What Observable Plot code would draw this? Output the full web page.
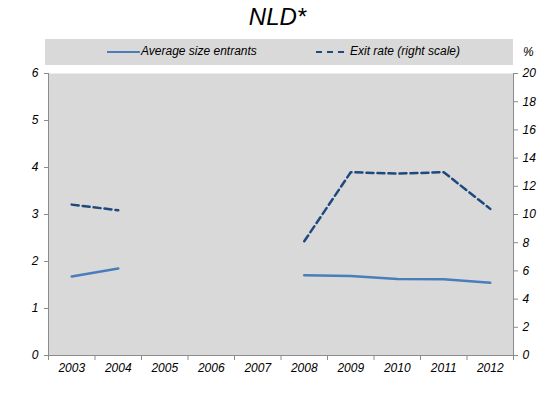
<!DOCTYPE html>
<html><head><meta charset="utf-8">
<script src="https://cdn.jsdelivr.net/npm/d3@7"></script>
<script src="https://cdn.jsdelivr.net/npm/@observablehq/plot@0.6"></script>
<style>
body{margin:0;background:#fff;font-family:"Liberation Sans",Arial,sans-serif;}
#wrap{position:relative;width:555px;height:405px;}
#title{position:absolute;left:0;top:0px;width:555px;text-align:center;font-size:24px;line-height:34px;font-style:italic;color:#000;}
#legend{position:absolute;left:45px;top:39px;width:468px;height:26px;background:#d9d9d9;font-size:12px;font-style:italic;color:#000;}
#pct{position:absolute;left:523px;top:45px;font-size:12px;font-style:italic;}
.li{position:absolute;top:5px;white-space:nowrap;}
.sw{position:absolute;top:12px;height:0;}
</style></head>
<body><div id="wrap">
<div id="title">NLD*</div>
<div id="legend">
  <div class="sw" style="left:62px;width:33px;border-top:2.5px solid #4a7ebb"></div>
  <div class="li" style="left:96px">Average size entrants</div>
  <div class="sw" style="left:271px;width:28px;border-top:2.5px dashed #1f497d"></div>
  <div class="li" style="left:305px">Exit rate (right scale)</div>
</div>
<div id="pct">%</div>
<div id="chart"></div>
</div>
<script>
const years = [2003,2004,2005,2006,2007,2008,2009,2010,2011,2012];
const avgSize = [1.68,1.85,null,null,null,1.71,1.69,1.63,1.62,1.55];
const exitRate = [10.7,10.3,null,null,null,8.1,13.0,12.9,13.0,10.4];
const leftTicks = [0,1,2,3,4,5,6];
const rightTicks = [0,2,4,6,8,10,12,14,16,18,20];
const ratio = 6/20;

const dataAvg = years.map((y,i)=>({year:y, v: avgSize[i]==null?NaN:avgSize[i]}));
const dataExit = years.map((y,i)=>({year:y, v: exitRate[i]==null?NaN:exitRate[i]*ratio}));
const bounds = d3.range(years.length+1).map(i=>years[0]-0.5+i);
const axisColor = "#8c8c8c";

const chart = Plot.plot({
  width:555, height:405,
  marginLeft:48, marginRight:42, marginTop:73, marginBottom:50,
  style:{fontFamily:"Liberation Sans, Arial, sans-serif", fontSize:"12px", fontStyle:"italic", color:"#000", background:"transparent"},
  x:{type:"linear", domain:[years[0]-0.5, years[years.length-1]+0.5]},
  y:{domain:[0,6]},
  marks:[
    Plot.frame({fill:"#d9d9d9", stroke:null}),
    Plot.axisX({ticks:years, tickFormat:d=>String(d), tickSize:0, tickPadding:8, label:null}),
    Plot.axisX({ticks:bounds, tickFormat:()=>"", tickSize:5, stroke:axisColor, label:null}),
    Plot.axisY({ticks:leftTicks, tickFormat:d=>String(d), tickSize:4, tickPadding:6, stroke:axisColor, label:null, anchor:"left"}),
    Plot.axisY({ticks:rightTicks.map(t=>t*ratio), tickFormat:d=>String(Math.round(d/ratio)), tickSize:4, tickPadding:5, stroke:axisColor, label:null, anchor:"right"}),
    Plot.ruleX([years[0]-0.5, years[years.length-1]+0.5], {stroke:axisColor}),
    Plot.ruleY([0], {stroke:axisColor}),
    Plot.lineY(dataAvg, {x:"year", y:"v", stroke:"#4a7ebb", strokeWidth:2.5}),
    Plot.lineY(dataExit, {x:"year", y:"v", stroke:"#1f497d", strokeWidth:2.5, strokeDasharray:"7,4"})
  ]
});
document.getElementById("chart").appendChild(chart);
</script>
</body></html>
